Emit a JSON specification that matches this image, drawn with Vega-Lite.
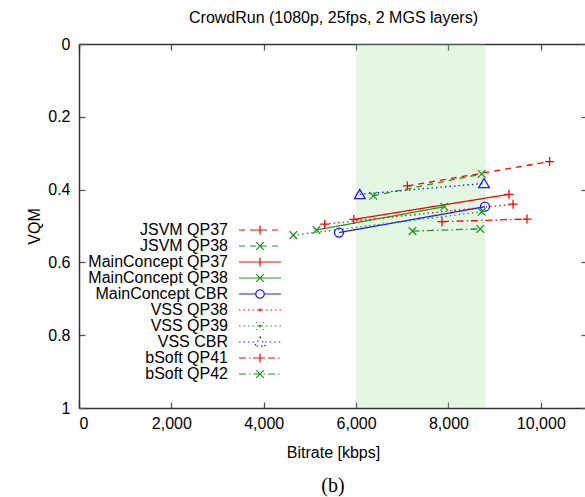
{
  "$schema": "https://vega.github.io/schema/vega-lite/v6.json",
  "width": 508,
  "height": 364,
  "autosize": "none",
  "padding": {"left": 79, "top": 44, "right": 0, "bottom": 89},
  "title": {"text": "(b)", "orient": "bottom", "font": "Liberation Serif", "fontSize": 20, "fontWeight": "normal", "color": "#000000", "offset": 16, "anchor": "middle"},
  "config": {
    "view": {"stroke": null},
    "font": "Liberation Sans",
    "axis": {"grid": false, "labelFont": "Liberation Sans", "labelFontSize": 16, "labelColor": "#000000", "titleFont": "Liberation Sans", "titleFontSize": 16, "titleFontWeight": "normal", "titleColor": "#000000", "domainColor": "#333333", "domainWidth": 1.5, "tickColor": "#555555", "tickWidth": 1.3, "tickSize": -6},
    "legend": {"orient": "none", "legendX": 173, "legendY": 178, "title": null, "labelFont": "Liberation Sans", "labelFontSize": 16, "labelColor": "#000000", "labelAlign": "right", "labelOffset": -40, "rowPadding": 0, "symbolSize": 196, "symbolStrokeWidth": 1.2, "padding": 0}
  },
  "datasets": {
    "band": [{"from": 6000, "to": 8800}],
    "pts": [
      {"series": "JSVM QP37", "bitrate": 7110, "vqm": 0.390},
      {"series": "JSVM QP37", "bitrate": 10190, "vqm": 0.323},
      {"series": "JSVM QP38", "bitrate": 6370, "vqm": 0.417},
      {"series": "JSVM QP38", "bitrate": 8720, "vqm": 0.357},
      {"series": "MainConcept QP37", "bitrate": 5950, "vqm": 0.482},
      {"series": "MainConcept QP37", "bitrate": 9310, "vqm": 0.413},
      {"series": "MainConcept QP38", "bitrate": 5140, "vqm": 0.511},
      {"series": "MainConcept QP38", "bitrate": 7910, "vqm": 0.447},
      {"series": "MainConcept CBR", "bitrate": 5630, "vqm": 0.518},
      {"series": "MainConcept CBR", "bitrate": 8790, "vqm": 0.447},
      {"series": "VSS QP38", "bitrate": 5320, "vqm": 0.495},
      {"series": "VSS QP38", "bitrate": 9400, "vqm": 0.440},
      {"series": "VSS QP39", "bitrate": 4640, "vqm": 0.525},
      {"series": "VSS QP39", "bitrate": 8720, "vqm": 0.461},
      {"series": "VSS CBR", "bitrate": 6080, "vqm": 0.413},
      {"series": "VSS CBR", "bitrate": 8770, "vqm": 0.383},
      {"series": "bSoft QP41", "bitrate": 7860, "vqm": 0.488},
      {"series": "bSoft QP41", "bitrate": 9700, "vqm": 0.481},
      {"series": "bSoft QP42", "bitrate": 7220, "vqm": 0.514},
      {"series": "bSoft QP42", "bitrate": 8690, "vqm": 0.508}
    ]
  },
  "resolve": {
    "scale": {"color": "independent", "shape": "independent", "strokeDash": "independent"},
    "axis": {"x": "independent", "y": "independent"}
  },
  "layer": [
    {
      "data": {"name": "band"},
      "mark": {"type": "rect", "fill": "#8ee08e", "opacity": 0.25},
      "encoding": {
        "x": {"field": "from", "type": "quantitative", "scale": {"domain": [0, 11000], "nice": false}, "axis": {"orient": "top", "labels": false, "values": [0, 2000, 4000, 6000, 8000, 10000], "title": "CrowdRun (1080p, 25fps, 2 MGS layers)", "titlePadding": 18}},
        "x2": {"field": "to"}
      }
    },
    {
      "data": {"name": "pts"},
      "mark": {"type": "line", "strokeWidth": 1.3},
      "encoding": {
        "x": {"field": "bitrate", "type": "quantitative", "scale": {"domain": [0, 11000], "nice": false}, "axis": {"orient": "bottom", "values": [0, 2000, 4000, 6000, 8000, 10000], "format": ",d", "labelPadding": 13, "title": "Bitrate [kbps]", "titlePadding": 13}},
        "y": {"field": "vqm", "type": "quantitative", "scale": {"domain": [0, 1], "reverse": true, "nice": false, "zero": false}, "axis": {"orient": "left", "values": [0, 0.2, 0.4, 0.6, 0.8, 1], "format": "~g", "labelPadding": 15, "title": "VQM", "titlePadding": 5}},
        "color": {"field": "series", "type": "nominal", "legend": null, "scale": {"domain": ["JSVM QP37", "JSVM QP38", "MainConcept QP37", "MainConcept QP38", "MainConcept CBR", "VSS QP38", "VSS QP39", "VSS CBR", "bSoft QP41", "bSoft QP42"], "range": ["#ff0000", "#209a20", "#ff0000", "#209a20", "#1a1aff", "#ff0000", "#209a20", "#1a1aff", "#ff0000", "#209a20"]}},
        "strokeDash": {"field": "series", "type": "nominal", "legend": null, "scale": {"domain": ["JSVM QP37", "JSVM QP38", "MainConcept QP37", "MainConcept QP38", "MainConcept CBR", "VSS QP38", "VSS QP39", "VSS CBR", "bSoft QP41", "bSoft QP42"], "range": [[6, 5], [6, 5], [1, 0], [1, 0], [1, 0], [1.5, 3], [1.5, 3], [1.5, 3], [7, 3, 1.5, 3], [7, 3, 1.5, 3]]}}
      }
    },
    {
      "data": {"name": "pts"},
      "mark": {"type": "point", "filled": false, "size": 81, "strokeWidth": 1.3, "opacity": 1},
      "encoding": {
        "x": {"field": "bitrate", "type": "quantitative", "scale": {"domain": [0, 11000], "nice": false}, "axis": null},
        "y": {"field": "vqm", "type": "quantitative", "scale": {"domain": [0, 1], "reverse": true, "nice": false, "zero": false}, "axis": {"orient": "right", "labels": false, "values": [0, 0.2, 0.4, 0.6, 0.8, 1], "title": null}},
        "color": {"field": "series", "type": "nominal", "legend": null, "scale": {"domain": ["JSVM QP37", "JSVM QP38", "MainConcept QP37", "MainConcept QP38", "MainConcept CBR", "VSS QP38", "VSS QP39", "VSS CBR", "bSoft QP41", "bSoft QP42"], "range": ["#ff0000", "#209a20", "#ff0000", "#209a20", "#1a1aff", "#ff0000", "#209a20", "#1a1aff", "#ff0000", "#209a20"]}},
        "shape": {"field": "series", "type": "nominal", "legend": null, "scale": {"domain": ["JSVM QP37", "JSVM QP38", "MainConcept QP37", "MainConcept QP38", "MainConcept CBR", "VSS QP38", "VSS QP39", "VSS CBR", "bSoft QP41", "bSoft QP42"], "range": ["M-1,0H1M0,-1V1", "M-0.85,-0.85L0.85,0.85M-0.85,0.85L0.85,-0.85", "M-1,0H1M0,-1V1", "M-0.85,-0.85L0.85,0.85M-0.85,0.85L0.85,-0.85", "M1,0A1,1,0,1,1,-1,0A1,1,0,1,1,1,0", "M-1,0H1M0,-1V1", "M-0.85,-0.85L0.85,0.85M-0.85,0.85L0.85,-0.85", "M0,-1.1L1.2,0.95L-1.2,0.95Z", "M-1,0H1M0,-1V1", "M-0.85,-0.85L0.85,0.85M-0.85,0.85L0.85,-0.85"]}}
      }
    },
    {
      "data": {"name": "pts"},
      "transform": [{"filter": "false"}],
      "mark": {"type": "point", "filled": false, "strokeWidth": 1.2, "opacity": 1},
      "encoding": {
        "color": {"field": "series", "type": "nominal", "legend": {"title": null}, "scale": {"domain": ["JSVM QP37", "JSVM QP38", "MainConcept QP37", "MainConcept QP38", "MainConcept CBR", "VSS QP38", "VSS QP39", "VSS CBR", "bSoft QP41", "bSoft QP42"], "range": ["#ff0000", "#209a20", "#ff0000", "#209a20", "#1a1aff", "#ff0000", "#209a20", "#1a1aff", "#ff0000", "#209a20"]}},
        "strokeDash": {"field": "series", "type": "nominal", "legend": {"title": null}, "scale": {"domain": ["JSVM QP37", "JSVM QP38", "MainConcept QP37", "MainConcept QP38", "MainConcept CBR", "VSS QP38", "VSS QP39", "VSS CBR", "bSoft QP41", "bSoft QP42"], "range": [[6, 5], [6, 5], [1, 0], [1, 0], [1, 0], [1.5, 3], [1.5, 3], [1.5, 3], [7, 3, 1.5, 3], [7, 3, 1.5, 3]]}},
        "shape": {"field": "series", "type": "nominal", "legend": {"title": null}, "scale": {"domain": ["JSVM QP37", "JSVM QP38", "MainConcept QP37", "MainConcept QP38", "MainConcept CBR", "VSS QP38", "VSS QP39", "VSS CBR", "bSoft QP41", "bSoft QP42"], "range": ["M0,0V-0.65M0,0V0.65M0,0H-0.65M0,0H0.65M-3,0H3", "M0,0L-0.55,-0.55M0,0L0.55,0.55M0,0L-0.55,0.55M0,0L0.55,-0.55M-3,0H3", "M0,0V-0.65M0,0V0.65M0,0H-0.65M0,0H0.65M-3,0H3", "M0,0L-0.55,-0.55M0,0L0.55,0.55M0,0L-0.55,0.55M0,0L0.55,-0.55M-3,0H3", "M0.6,0A0.6,0.6,0,1,1,-0.6,0A0.6,0.6,0,1,1,0.6,0M-3,0H-0.6M0.6,0H3", "M0,0V-0.65M0,0V0.65M0,0H-0.65M0,0H0.65M-3,0H3", "M0,0L-0.55,-0.55M0,0L0.55,0.55M0,0L-0.55,0.55M0,0L0.55,-0.55M-3,0H3", "M0,-0.7L0.78,0.6L-0.78,0.6ZM-3,0H-0.75M0.75,0H3", "M0,0V-0.65M0,0V0.65M0,0H-0.65M0,0H0.65M-3,0H3", "M0,0L-0.55,-0.55M0,0L0.55,0.55M0,0L-0.55,0.55M0,0L0.55,-0.55M-3,0H3"]}}
      }
    }
  ]
}
